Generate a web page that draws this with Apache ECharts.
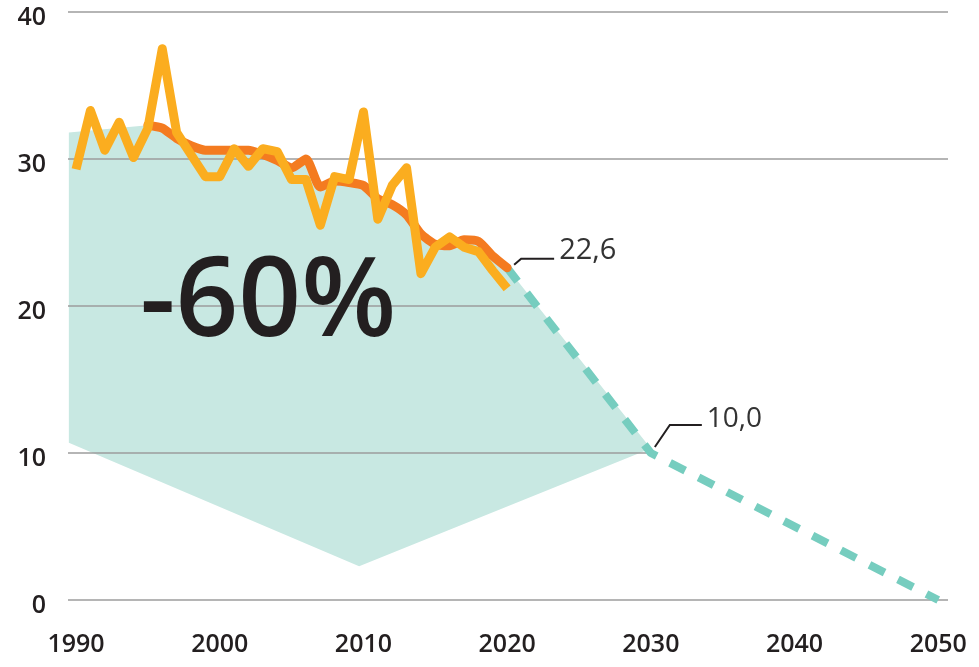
<!DOCTYPE html>
<html>
<head>
<meta charset="utf-8">
<script src="https://cdn.jsdelivr.net/npm/echarts@6/dist/echarts.min.js"></script>
<style>
  html, body { margin: 0; padding: 0; background: #fff; }
  #chart { width: 979px; height: 667px; }
</style>
</head>
<body>
<div id="chart"></div>
<script>
// annual values 1990-2020 (yellow)
const years = [1990, 1991, 1992, 1993, 1994, 1995, 1996, 1997, 1998, 1999,
  2000, 2001, 2002, 2003, 2004, 2005, 2006, 2007, 2008, 2009,
  2010, 2011, 2012, 2013, 2014, 2015, 2016, 2017, 2018, 2019, 2020];
const annual = [29.3, 33.3, 30.6, 32.5, 30.1, 32.1, 37.5, 31.8, 30.3, 28.8,
  28.8, 30.7, 29.5, 30.7, 30.5, 28.6, 28.6, 25.5, 28.8, 28.6,
  33.2, 25.9, 28.2, 29.4, 22.2, 24.0, 24.7, 24.0, 23.7, 22.4, 21.2];

// trend (orange) 1995-2020
const trendYears = [1995, 1996, 1997, 1998, 1999, 2000, 2001, 2002, 2003, 2004,
  2005, 2006, 2007, 2008, 2009, 2010, 2011, 2012, 2013, 2014,
  2015, 2016, 2017, 2018, 2019, 2020];
const trend = [32.3, 32.1, 31.4, 30.9, 30.6, 30.6, 30.6, 30.6, 30.3, 29.9,
  29.4, 30.0, 28.1, 28.5, 28.4, 28.2, 27.3, 26.9, 26.2, 24.9,
  24.2, 24.1, 24.5, 24.4, 23.4, 22.6];

// target path (dashed)
const targetYears = [2020, 2030, 2050];
const target = [22.6, 10.0, 0];

// shaded area corners besides the trend line
const shadeStart = [1989.5, 31.8];
const shadeCorner = [2030, 10.3];
const shadeApex = [2009.7, 2.3];
const shadeBase = [1989.5, 10.7];

const xTicks = [1990, 2000, 2010, 2020, 2030, 2040, 2050];
const guideValues = [10, 20];
const calloutYears = [2020, 2030];
const calloutValues = [22.6, 10.0];

const X_MIN = 1989.44, X_MAX = 2050.68;
const FONT = '"Open Sans", "Noto Sans", sans-serif';

const zip = (xs, ys) => xs.map((x, i) => [x, ys[i]]);

// where the target line crosses a value
function targetYearAt(v) {
  for (let i = 0; i < target.length - 1; i++) {
    const a = target[i], b = target[i + 1];
    if (v <= a && v >= b) {
      return targetYears[i] + (a - v) / (a - b) * (targetYears[i + 1] - targetYears[i]);
    }
  }
  return X_MAX;
}

const shadePath = [shadeStart].concat(zip(trendYears, trend), [shadeCorner, shadeApex, shadeBase]);

const calloutStyle = [
  { line: [[7, -3], [14, -9], [47, -9]], text: [52, -17], size: 29 },
  { line: [[4, -6], [19, -28], [51, -28]], text: [56, -34], size: 28 }
];

const chart = echarts.init(document.getElementById('chart'));

const option = {
  animation: false,
  grid: { left: 68, right: 31, top: 12, bottom: 67, outerBoundsMode: 'none', containLabel: false },
  xAxis: {
    type: 'value',
    min: X_MIN,
    max: X_MAX,
    axisLine: { show: false },
    axisTick: { show: false },
    splitLine: { show: false },
    axisLabel: {
      customValues: xTicks,
      formatter: v => String(v),
      margin: 32,
      fontSize: 25,
      fontFamily: FONT,
      fontWeight: 600,
      color: '#231f20'
    }
  },
  yAxis: {
    type: 'value',
    min: 0,
    max: 40,
    interval: 10,
    z: 1,
    axisLine: { show: false },
    axisTick: { show: false },
    axisLabel: {
      margin: 22,
      fontSize: 25,
      fontFamily: FONT,
      fontWeight: 600,
      color: '#231f20',
      verticalAlign: 'top',
      lineHeight: 12
    },
    splitLine: {
      lineStyle: {
        color: ['#9d9d9d', 'transparent', 'transparent', '#9d9d9d', '#9d9d9d'],
        width: 1.5
      }
    }
  },
  graphic: [{
    type: 'text',
    left: 140,
    top: 250,
    z: 10,
    style: {
      text: '-60%',
      font: '600 110px ' + FONT,
      fill: '#231f20'
    }
  }],
  series: [
    {
      name: 'shade',
      type: 'custom',
      z: 0,
      silent: true,
      data: [[2000, 20]],
      renderItem: function (params, api) {
        const pts = shadePath.map(p => api.coord(p));
        return { type: 'polygon', shape: { points: pts }, style: { fill: '#c8e8e2' } };
      }
    },
    {
      name: 'guides',
      type: 'custom',
      z: 1,
      silent: true,
      data: guideValues.map(v => [v]),
      renderItem: function (params, api) {
        const v = api.value(0);
        const a = api.coord([X_MIN, v]);
        const b = api.coord([targetYearAt(v), v]);
        return {
          type: 'line',
          shape: { x1: a[0], y1: a[1], x2: b[0], y2: b[1] },
          style: { stroke: '#9d9d9d', lineWidth: 1.5 }
        };
      }
    },
    {
      name: 'target',
      type: 'line',
      z: 2,
      data: zip(targetYears, target),
      symbol: 'none',
      lineStyle: { color: '#76cdbf', width: 8, type: [17, 15], cap: 'butt' }
    },
    {
      name: 'trend',
      type: 'line',
      z: 3,
      data: zip(trendYears, trend),
      symbol: 'none',
      smooth: 0.2,
      lineStyle: { color: '#f47b20', width: 9, cap: 'round', join: 'round' }
    },
    {
      name: 'annual',
      type: 'line',
      z: 4,
      data: zip(years, annual),
      symbol: 'none',
      lineStyle: { color: '#fbad1f', width: 9, cap: 'butt', join: 'round' }
    },
    {
      name: 'callouts',
      type: 'custom',
      z: 5,
      silent: true,
      data: zip(calloutYears, calloutValues),
      renderItem: function (params, api) {
        const p = api.coord([api.value(0), api.value(1)]);
        const s = calloutStyle[params.dataIndex];
        const label = api.value(1).toFixed(1).replace('.', ',');
        return {
          type: 'group',
          children: [
            {
              type: 'polyline',
              shape: { points: s.line.map(d => [p[0] + d[0], p[1] + d[1]]) },
              style: { stroke: '#231f20', lineWidth: 2, fill: null }
            },
            {
              type: 'text',
              x: p[0] + s.text[0],
              y: p[1] + s.text[1],
              style: {
                text: label,
                font: '400 ' + s.size + 'px ' + FONT,
                fill: '#333',
                align: 'left',
                verticalAlign: 'middle'
              }
            }
          ]
        };
      }
    }
  ]
};

chart.setOption(option);
</script>
</body>
</html>
